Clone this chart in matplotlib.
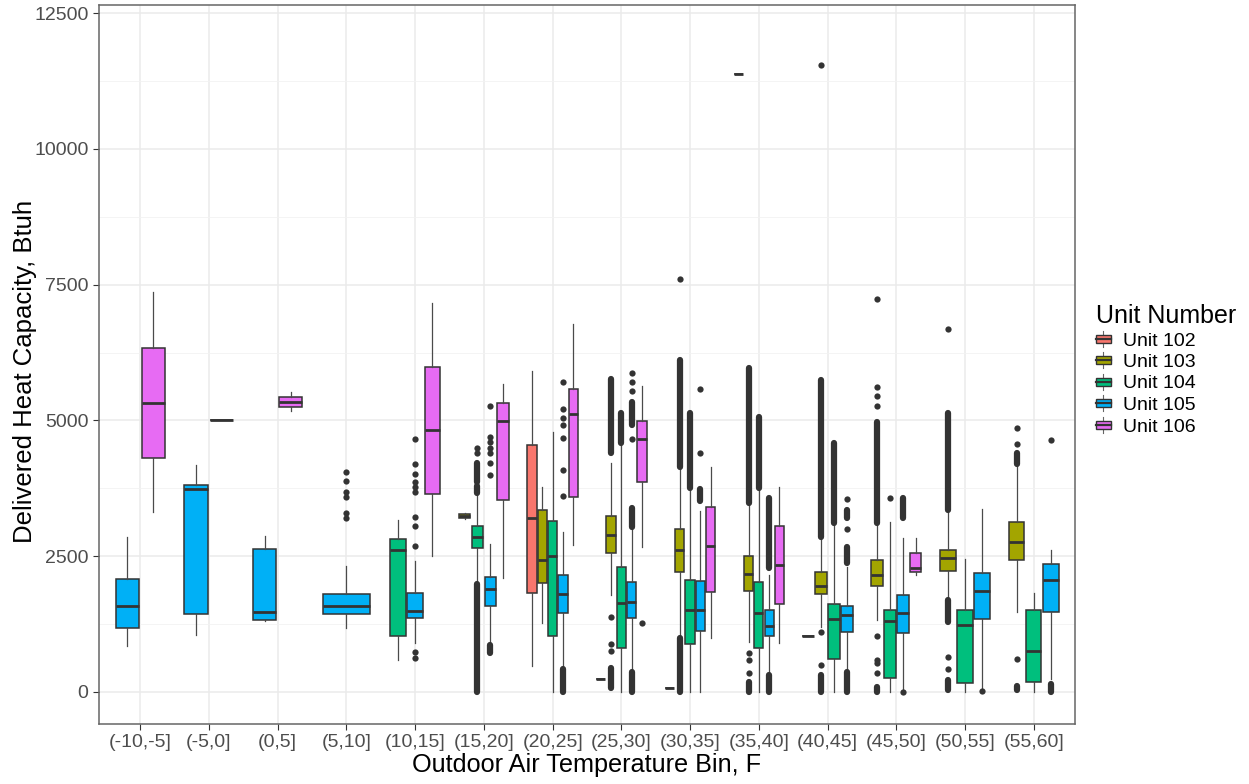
import matplotlib
matplotlib.use("Agg")
import matplotlib.pyplot as plt
from matplotlib.legend_handler import HandlerBase
from matplotlib.patches import Rectangle
from matplotlib.lines import Line2D
from matplotlib.ticker import MultipleLocator
from collections import Counter

plt.rcParams['font.family'] = ['Liberation Sans', 'DejaVu Sans']

bins = ["(-10,-5]", "(-5,0]", "(0,5]", "(5,10]", "(10,15]", "(15,20]", "(20,25]",
        "(25,30]", "(30,35]", "(35,40]", "(40,45]", "(45,50]", "(50,55]", "(55,60]"]
units = ["Unit 102", "Unit 103", "Unit 104", "Unit 105", "Unit 106"]
unit_colors = ["#F8766D", "#A3A500", "#00BF7D", "#00B0F6", "#E76BF3"]

# one entry per box: bin index, unit index (0 = Unit 102 ... 4 = Unit 106)
box_bin = [0, 0, 1, 1, 2, 2, 3, 4, 4, 4, 5, 5, 5, 5,
           6, 6, 6, 6, 6, 7, 7, 7, 7, 7, 8, 8, 8, 8, 8, 9, 9, 9, 9, 9,
           10, 10, 10, 10, 11, 11, 11, 11, 12, 12, 12, 13, 13, 13]
box_unit = [3, 4, 3, 4, 3, 4, 3, 2, 3, 4, 1, 2, 3, 4,
            0, 1, 2, 3, 4, 0, 1, 2, 3, 4, 0, 1, 2, 3, 4, 0, 1, 2, 3, 4,
            0, 1, 2, 3, 1, 2, 3, 4, 1, 2, 3, 1, 2, 3]
whisk_lo = [850, 3310, 1040, 5000, 1300, 5180, 1170, 580, 900, 2500, 3190, 2020, 870, 2100,
            485, 1275, 0, 485, 2705, 245, 1785, 0, 405, 2675, 68, 1020, 0, 0, 1000,
            11380, 925, 0, 315, 895, 1030, 1205, 0, 405, 1325, 0, 0, 2150,
            1325, 0, 70, 1465, 0, 235]
q1 = [1180, 4310, 1440, 5000, 1320, 5250, 1440, 1025, 1370, 3640, 3210, 2660, 1590, 3535,
      1830, 2015, 1025, 1455, 3585, 245, 2555, 805, 1355, 3860, 68, 2210, 890, 1130, 1835,
      11380, 1855, 815, 1030, 1615, 1030, 1800, 610, 1110, 1950, 250, 1080, 2210,
      2220, 160, 1335, 2430, 180, 1475]
median = [1590, 5330, 3730, 5000, 1470, 5340, 1590, 2620, 1500, 4820, 3245, 2860, 1890, 4990,
          3200, 2425, 2500, 1810, 5110, 245, 2890, 1640, 1650, 4660, 68, 2615, 1515, 1515, 2690,
          11380, 2170, 1450, 1220, 2340, 1030, 1950, 1345, 1410, 2155, 1315, 1450, 2275,
          2460, 1235, 1860, 2765, 760, 2060]
q3 = [2075, 6340, 3810, 5000, 2630, 5425, 1800, 2820, 1820, 5980, 3275, 3050, 2110, 5320,
      4550, 3350, 3140, 2160, 5580, 245, 3240, 2295, 2020, 4995, 68, 3000, 2060, 2040, 3400,
      11380, 2505, 2020, 1505, 3050, 1030, 2215, 1625, 1590, 2430, 1505, 1780, 2555,
      2610, 1505, 2190, 3125, 1515, 2360]
whisk_hi = [2850, 7360, 4180, 5000, 2870, 5520, 2320, 3170, 2410, 7170, 3300, 3640, 2720, 5665,
            5915, 3770, 4790, 2950, 6775, 245, 4210, 4547, 3010, 5635, 68, 4150, 3750, 3330, 4135,
            11380, 3485, 3750, 2155, 3780, 1030, 2830, 3105, 2310, 3105, 3125, 2840, 2840,
            3350, 2440, 3365, 4190, 1815, 2610]

# single outliers, keyed by (bin, unit)
outlier_pts = {
    (3, 3): [4050, 3878, 3682, 3584, 3289, 3203],
    (4, 3): [4664, 4190, 4006, 3872, 3780, 3676, 3222, 3056, 2694, 731, 632],
    (5, 2): [4400, 4490],
    (5, 3): [5270, 4700, 4600, 4500, 4400, 4210, 3995],
    (6, 3): [5701, 5210, 5039, 4916, 4671, 4087, 3608],
    (7, 1): [1375, 878, 755],
    (7, 3): [5866, 5701, 5547, 4652],
    (7, 4): [1270],
    (8, 1): [7600],
    (8, 3): [5584, 4395],
    (9, 1): [718, 589, 356],
    (10, 1): [11550, 1111, 497],
    (10, 3): [3547, 2995],
    (11, 1): [5270, 5454, 5615, 7235, 1037, 589, 528, 356],
    (11, 2): [3565],
    (11, 3): [0],
    (12, 1): [6683, 650, 423],
    (12, 3): [24],
    (13, 1): [4565, 4860, 602],
    (13, 3): [4633],
}
# runs of outliers so dense they merge into a bar: (low, high)
outlier_runs = {
    (5, 2): [(0, 1990), (3660, 3790), (3870, 4220)],
    (5, 3): [(720, 865)],
    (6, 3): [(0, 430)],
    (7, 1): [(4395, 5756), (68, 435)],
    (7, 2): [(4580, 5130)],
    (7, 3): [(0, 375), (3045, 3380), (4916, 5333)],
    (8, 1): [(4150, 6110), (0, 1000)],
    (8, 2): [(3750, 5140)],
    (8, 3): [(3522, 3730)],
    (9, 1): [(3485, 5958), (0, 190)],
    (9, 2): [(3750, 5068)],
    (9, 3): [(0, 313), (2277, 3572)],
    (10, 1): [(2860, 5740), (0, 313)],
    (10, 2): [(3105, 4578)],
    (10, 3): [(0, 374), (3197, 3351), (2369, 2675)],
    (11, 1): [(3105, 4977), (0, 98)],
    (11, 3): [(3197, 3565)],
    (12, 1): [(3351, 5130), (1295, 1694), (37, 221)],
    (13, 1): [(4190, 4395), (37, 110)],
    (13, 3): [(6, 141)],
}

line_col = "#333333"

# ggplot-style dodge: 0.75 wide per bin, shared by the units present, 10% padding
n_in_bin = Counter(box_bin)
seen = Counter()
positions, widths, pos_of = [], [], {}
for b, u in zip(box_bin, box_unit):
    slot = 0.75 / n_in_bin[b]
    x = b - 0.375 + slot * (seen[b] + 0.5)
    seen[b] += 1
    positions.append(x)
    widths.append(slot * 0.9)
    pos_of[(b, u)] = x

fig = plt.figure(figsize=(12.49, 7.84), dpi=100)
ax = fig.add_axes([99 / 1249, 60 / 784, 976 / 1249, 719 / 784])

stats = [dict(whislo=a, q1=b, med=c, q3=d, whishi=e, fliers=[])
         for a, b, c, d, e in zip(whisk_lo, q1, median, q3, whisk_hi)]
bp = ax.bxp(stats, positions=positions, widths=widths, patch_artist=True,
            showfliers=False, showcaps=False, manage_ticks=False,
            boxprops=dict(edgecolor=line_col, linewidth=1.1),
            medianprops=dict(color=line_col, linewidth=2.0, solid_capstyle='butt'),
            whiskerprops=dict(color='#4a4a4a', linewidth=0.9))
for patch, u in zip(bp['boxes'], box_unit):
    patch.set_facecolor(unit_colors[u])
for artist in bp['boxes'] + bp['medians'] + bp['whiskers']:
    artist.set_zorder(3)

for key, vals in outlier_pts.items():
    ax.plot([pos_of[key]] * len(vals), vals, 'o', ms=4.5, color=line_col,
            mew=0, zorder=4)
for key, runs in outlier_runs.items():
    x = pos_of[key]
    ax.vlines([x] * len(runs), [r[0] for r in runs], [r[1] for r in runs],
              colors=line_col, linewidth=4.5, capstyle='round', zorder=4)

ax.set_xlim(-0.6, 13.6)
ax.set_ylim(-590, 12650)
ax.set_xticks(range(len(bins)))
ax.set_xticklabels(bins)
ax.yaxis.set_major_locator(MultipleLocator(2500))
ax.yaxis.set_minor_locator(MultipleLocator(1250))
ax.grid(which='major', color='#EBEBEB', linewidth=1.1, zorder=0)
ax.grid(which='minor', axis='y', color='#F2F2F2', linewidth=0.6, zorder=0)
ax.set_axisbelow(True)
ax.tick_params(axis='both', which='major', labelsize=14, labelcolor='#4D4D4D',
               color=line_col, length=4, width=0.8)
ax.tick_params(axis='y', which='minor', length=0)
for s in ax.spines.values():
    s.set_color('#666666')
    s.set_linewidth(1.1)

ax.set_xlabel("Outdoor Air Temperature Bin, F", fontsize=18.2, labelpad=1)
ax.set_ylabel("Delivered Heat Capacity, Btuh", fontsize=18.5)
ax.yaxis.set_label_coords(-62 / 976, 0.49)


class BoxKey(HandlerBase):
    def create_artists(self, legend, orig, xd, yd, w, h, fontsize, trans):
        x0, y0 = -xd, -yd
        cx = x0 + w / 2
        box = Rectangle((x0, y0 + 0.22 * h), w, 0.56 * h, facecolor=orig.get_facecolor(),
                        edgecolor=line_col, linewidth=1.0, transform=trans)
        med = Line2D([x0, x0 + w], [y0 + 0.5 * h] * 2, color=line_col, lw=1.6, transform=trans)
        lo = Line2D([cx, cx], [y0 - 0.05 * h, y0 + 0.22 * h], color='#666666', lw=0.8, transform=trans)
        hi = Line2D([cx, cx], [y0 + 0.78 * h, y0 + 1.05 * h], color='#666666', lw=0.8, transform=trans)
        return [lo, hi, box, med]


handles = [Rectangle((0, 0), 1, 1, facecolor=c) for c in unit_colors]
leg = fig.legend(handles, units, handler_map={Rectangle: BoxKey()},
                 loc='upper left', bbox_to_anchor=(1096 / 1249, 1 - 304 / 784),
                 frameon=False, fontsize=14, title="Unit Number", title_fontsize=18,
                 handlelength=0.75, handleheight=0.8, handletextpad=0.65,
                 labelspacing=0.17, borderaxespad=0, borderpad=0)
leg._legend_box.align = "left"

fig.savefig("out.png", dpi=100)
